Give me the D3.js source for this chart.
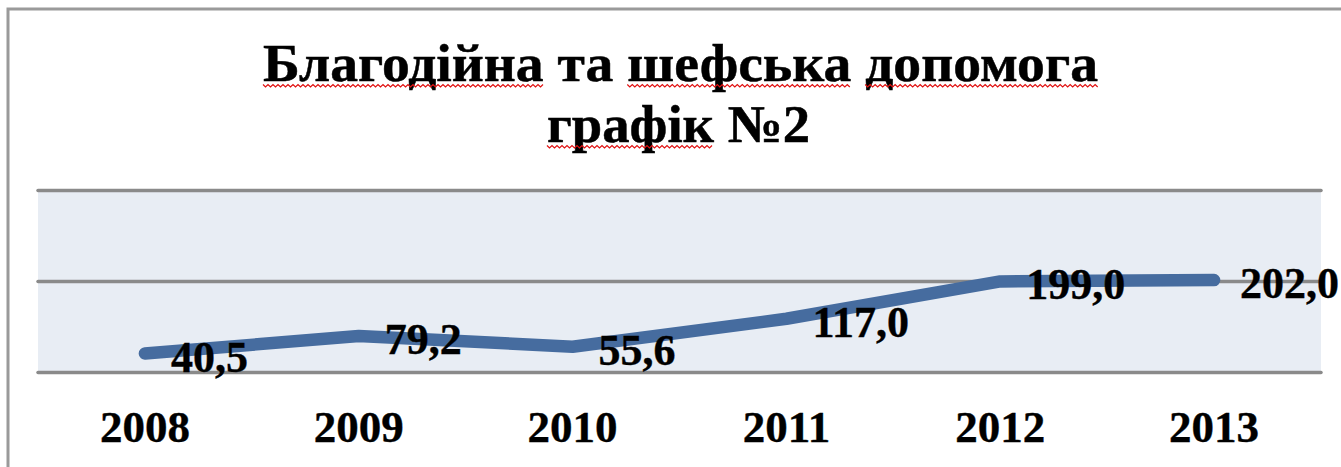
<!DOCTYPE html>
<html><head><meta charset="utf-8">
<script src="https://cdn.jsdelivr.net/npm/d3@7"></script>
<style>html,body{margin:0;padding:0;background:#fff;overflow:hidden}</style>
</head><body>
<svg id="c" width="1341" height="467"></svg>
<script>
const titleLines = ["Благодійна та шефська допомога", "графік №2"];
const underlinedWords = ["Благодійна", "шефська", "допомога", "графік"];
const categories = ["2008", "2009", "2010", "2011", "2012", "2013"];
const values = [40.5, 79.2, 55.6, 117.0, 199.0, 202.0];
const yTicks = [0, 200, 400];

const svg = d3.select("#c");
const serif = "'Liberation Serif','Times New Roman',serif";

// outer frame
svg.append("rect").attr("x", 8).attr("y", 9).attr("width", 1400).attr("height", 500)
  .attr("fill", "#fff").attr("stroke", "#9a9a9a").attr("stroke-width", 3);

const x0 = 38, x1 = 1321, yTop = 190, yBot = 372;
const x = d3.scaleBand().domain(categories).range([x0, x1]);
const y = d3.scaleLinear().domain([0, 400]).range([yBot, yTop]);
const cx = c => x(c) + x.bandwidth() / 2;

// plot fill
svg.append("rect").attr("x", x0).attr("y", y(400)).attr("width", x1 - x0).attr("height", y(0) - y(400))
  .attr("fill", "#e8edf4");

// gridlines via axis
const gAxis = svg.append("g").attr("transform", `translate(${x0},0)`)
  .call(d3.axisLeft(y).tickValues(yTicks).tickSize(-(x1 - x0)).tickFormat(""));
gAxis.select(".domain").remove();
gAxis.selectAll("line").attr("stroke", "#8a8a8a").attr("stroke-width", 3.5).attr("stroke-linecap", "round");

// x axis labels
const gx = svg.append("g").attr("transform", `translate(0,${yBot})`)
  .call(d3.axisBottom(x).tickSize(0));
gx.select(".domain").remove();
gx.selectAll("text").attr("y", 70).attr("dy", 0)
  .attr("font-family", serif).attr("font-weight", "bold").attr("font-size", 45).attr("fill", "#000")
  .attr("stroke", "#000").attr("stroke-width", 0.4);

// line
const line = d3.line().x((d, i) => cx(categories[i])).y(d => y(d));
svg.append("path").datum(values).attr("d", line).attr("fill", "none")
  .attr("stroke", "#466c9f").attr("stroke-width", 12.5)
  .attr("stroke-linecap", "round").attr("stroke-linejoin", "round");

// data labels
const fmt = d3.formatLocale({decimal: ",", thousands: " ", grouping: [3], currency: ["", ""]}).format(".1f");
svg.append("g").selectAll("text").data(values).join("text")
  .attr("x", (d, i) => cx(categories[i]) + 26)
  .attr("y", d => y(d) + 18)
  .attr("font-family", serif).attr("font-weight", "bold").attr("font-size", 44).attr("fill", "#000")
  .attr("stroke", "#000").attr("stroke-width", 0.4)
  .text(d => fmt(d));

// title
const titleSpec = [
  {cx: 680.5, base: 81, w: 835, size: 53},
  {cx: 678.5, base: 142, w: 263, size: 53}
];
titleLines.forEach((t, li) => {
  const s = titleSpec[li];
  const el = svg.append("text")
    .attr("x", s.cx - s.w / 2).attr("y", s.base)
    .attr("font-family", serif).attr("font-weight", "bold").attr("font-size", s.size)
    .attr("textLength", s.w).attr("lengthAdjust", "spacingAndGlyphs")
    .attr("fill", "#000").attr("stroke", "#000").attr("stroke-width", 0.5).text(t);
  const node = el.node();
  underlinedWords.forEach(w => {
    const idx = t.indexOf(w);
    if (idx < 0) return;
    const xs = node.getStartPositionOfChar(idx).x;
    const xe = node.getEndPositionOfChar(idx + w.length - 1).x;
    const uy = s.base + 3.5;
    let p = `M${xs},${uy}`;
    let k = 0;
    for (let xx = xs + 2.5; xx <= xe; xx += 2.5) {
      k++;
      p += `L${xx},${uy + (k % 2 ? 2.5 : 0)}`;
    }
    svg.append("path").attr("d", p).attr("fill", "none").attr("stroke", "#e01010").attr("stroke-width", 1.2);
  });
});
</script>
</body></html>
